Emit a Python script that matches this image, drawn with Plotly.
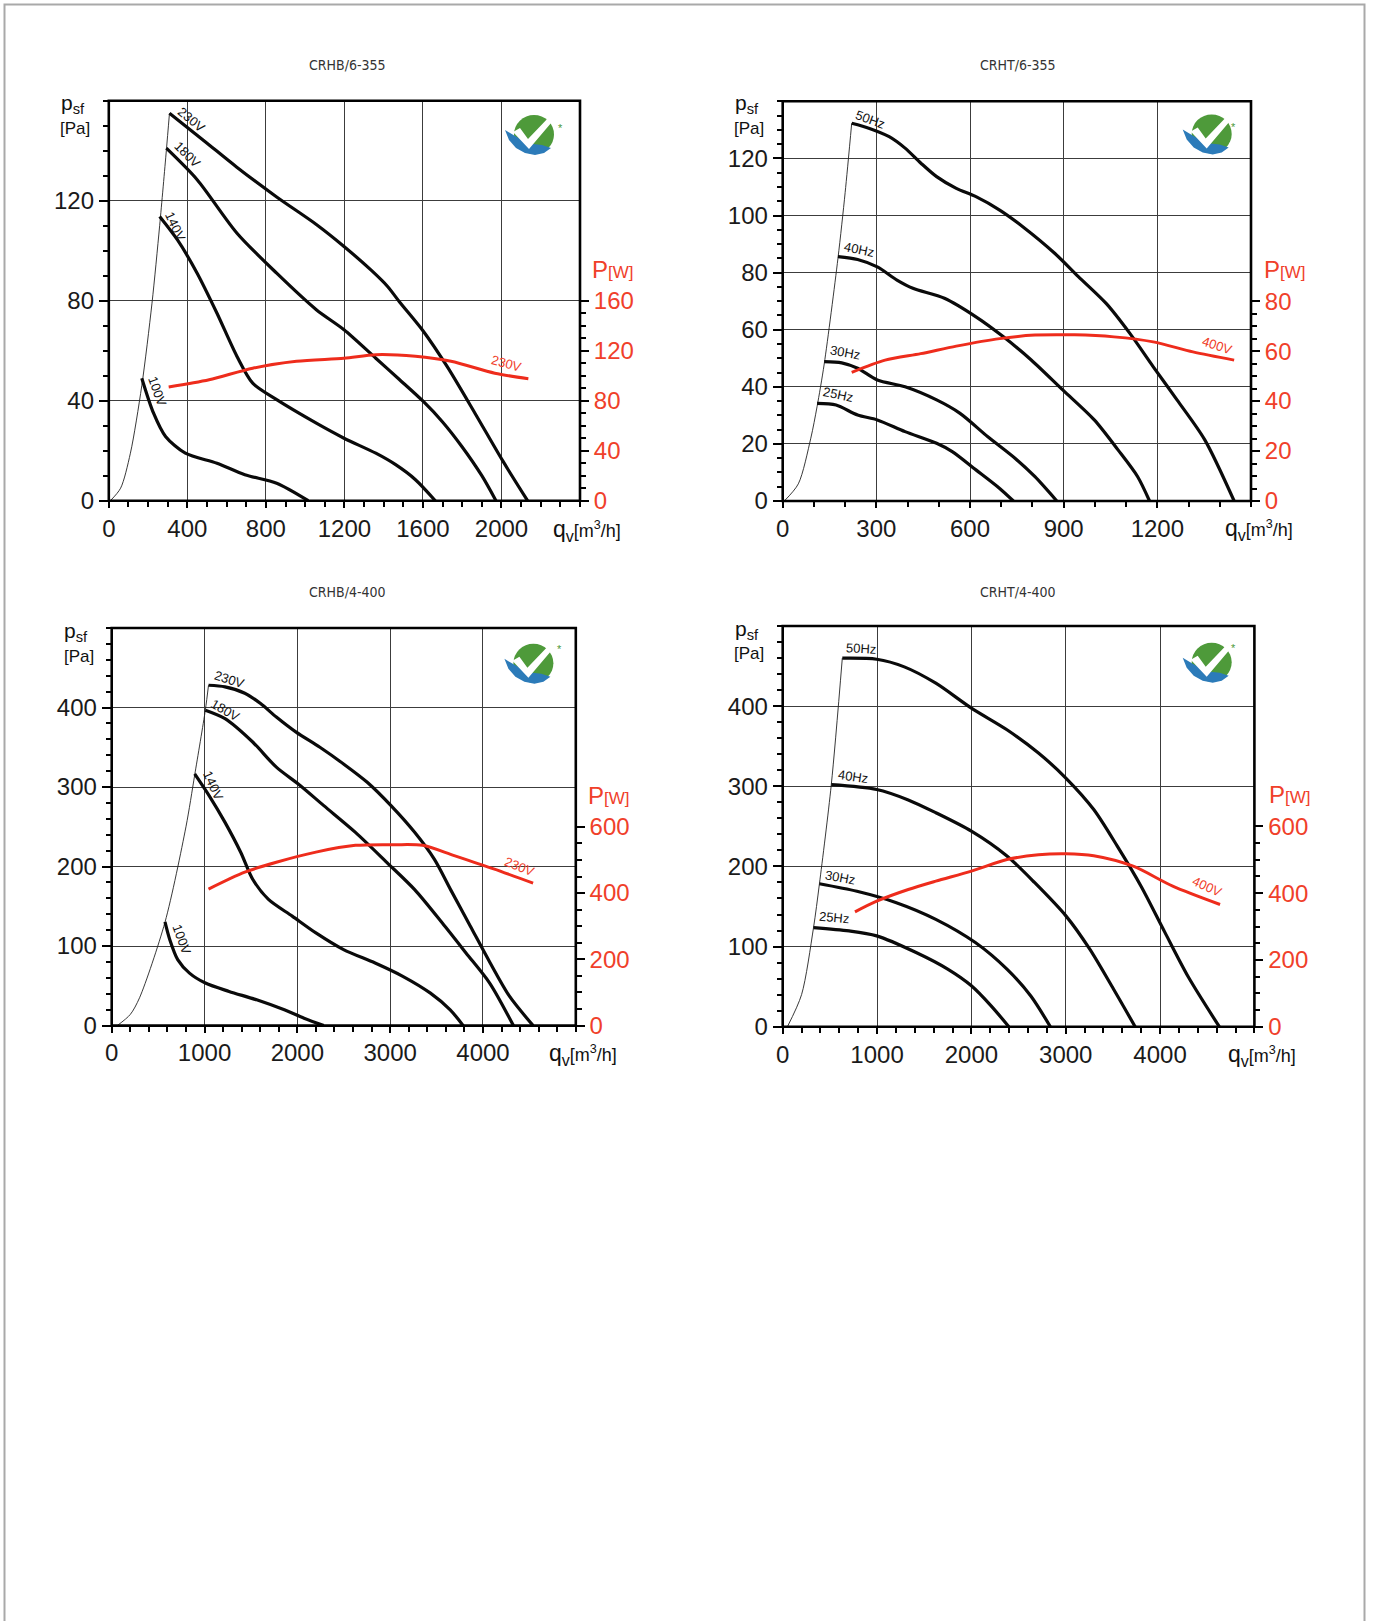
import plotly.graph_objects as go

W, H = 1373, 1621

# ---------------- data ----------------
TITLES = ["CRHB/6-355", "CRHT/6-355", "CRHB/4-400", "CRHT/4-400"]

# CRHB/6-355  (q in m3/h, psf in Pa, P in W)
A_230_Q = [309, 491, 652, 855, 1057, 1198, 1339, 1420, 1481, 1602, 1723, 1865, 2006, 2133]
A_230_P = [155, 143.6, 133.4, 121.5, 110.5, 101.7, 92.0, 85.7, 79.5, 67.8, 53.7, 35, 16, 0]
A_180_Q = [293, 450, 653, 855, 1057, 1198, 1360, 1480, 1602, 1700, 1800, 1900, 1972]
A_180_P = [141, 128.4, 107, 91, 76.4, 68.4, 57, 48.5, 39.7, 31.5, 21.5, 10, 0]
A_140_Q = [259, 349, 450, 551, 653, 733, 855, 1057, 1198, 1360, 1461, 1562, 1663]
A_140_P = [113.7, 104.4, 91, 75, 57.7, 47, 40.4, 31, 25, 19, 14.4, 8.4, 0]
A_100_Q = [168, 228, 289, 390, 551, 693, 855, 1016]
A_100_P = [49, 35, 25.7, 19, 15, 10.4, 7, 0]
A_SYS_Q = [8, 60, 110, 168, 220, 259, 293, 309]
A_SYS_P = [0, 5, 19, 46, 79, 110, 140, 155]
A_PW_Q = [305, 511, 733, 956, 1198, 1360, 1562, 1743, 1966, 2137]
A_PW_W = [91, 96.8, 106, 111.5, 114, 116.8, 115.5, 111.5, 102, 97.6]

# CRHT/6-355
B_50_Q = [221, 278, 341, 392, 442, 493, 556, 619, 695, 770, 872, 947, 1036, 1112, 1187, 1263, 1352, 1446]
B_50_P = [132.3, 130.5, 127.6, 123.6, 118.4, 113.6, 109.5, 106.6, 101.9, 96, 86.7, 78.6, 69.2, 58.7, 47, 35.4, 21.4, 0]
B_40_Q = [177, 240, 303, 366, 417, 518, 619, 707, 796, 897, 998, 1074, 1137, 1175]
B_40_P = [85.6, 84.6, 82, 77.4, 74.5, 71, 64.5, 57.5, 49.4, 38.9, 28.4, 17.9, 8.5, 0]
B_30_Q = [133, 189, 240, 303, 392, 493, 568, 657, 745, 808, 878]
B_30_P = [48.8, 48.4, 46.5, 42.4, 40, 35.4, 30.7, 22.5, 14.9, 8.5, 0]
B_25_Q = [110, 171, 240, 303, 392, 493, 543, 619, 695, 739]
B_25_P = [34.2, 33.6, 30.1, 28.4, 24.3, 20.2, 17.3, 10.9, 4.4, 0]
B_SYS_Q = [5, 50, 90, 110, 133, 177, 200, 221]
B_SYS_P = [0, 6, 22, 33, 48, 85, 108, 132.3]
B_PW_Q = [221, 328, 442, 556, 695, 808, 935, 1061, 1187, 1314, 1446]
B_PW_W = [51.5, 56.4, 59, 62, 65, 66.4, 66.5, 65.7, 63.7, 59.7, 56.4]

# CRHB/4-400
C_230_Q = [1043, 1221, 1434, 1604, 1774, 1987, 2243, 2498, 2753, 3009, 3264, 3477, 3651, 3864, 4072, 4285, 4540]
C_230_P = [428, 426, 418, 405, 388, 369, 350, 329, 306, 276.6, 243, 209, 171, 125, 80, 37, 0]
C_180_Q = [1009, 1221, 1519, 1774, 2030, 2285, 2626, 2966, 3264, 3562, 3817, 4072, 4328]
C_180_P = [396.6, 386, 356.6, 325, 302, 276.6, 243, 205, 171, 129, 91.4, 53.5, 0]
C_140_Q = [894, 1051, 1221, 1391, 1519, 1689, 1945, 2200, 2498, 2838, 3136, 3434, 3647, 3787]
C_140_P = [316.6, 289, 255.6, 217.7, 184, 158.7, 137.7, 116.6, 95.6, 78.7, 62, 40.8, 19.8, 0]
C_100_Q = [574, 626, 711, 838, 1009, 1264, 1562, 1860, 2072, 2285]
C_100_P = [130.5, 108, 83, 66, 53.5, 43, 32.4, 19.8, 9.3, 0]
C_SYS_Q = [60, 200, 300, 574, 800, 894, 1009, 1043]
C_SYS_P = [0, 14, 35, 130, 250, 315, 397, 428]
C_PW_Q = [1043, 1434, 1774, 2200, 2626, 3051, 3349, 3690, 4115, 4540]
C_PW_W = [412, 463, 493, 523.5, 544, 546, 544, 513, 473, 430]

# CRHT/4-400
D_50_Q = [632, 996, 1289, 1623, 2000, 2377, 2711, 3004, 3297, 3548, 3800, 4050, 4300, 4628]
D_50_P = [459.8, 458.5, 449, 428.6, 397.5, 370.5, 341.5, 310, 271, 225, 175, 118, 62, 0]
D_40_Q = [515, 996, 1331, 1623, 2000, 2377, 2669, 3004, 3255, 3506, 3736]
D_40_P = [302, 296, 283, 267, 244, 213, 180, 138, 96.7, 47, 0]
D_30_Q = [389, 787, 1205, 1623, 2042, 2377, 2628, 2837]
D_30_P = [178.4, 169, 154.8, 134, 105, 71.8, 38.6, 0]
D_25_Q = [326, 703, 996, 1414, 1749, 2000, 2209, 2397]
D_25_P = [123.7, 119.5, 113.3, 92.5, 71.8, 51, 26, 0]
D_SYS_Q = [50, 200, 326, 389, 515, 632]
D_SYS_P = [0, 40, 123, 178, 302, 460]
D_PW_Q = [766, 996, 1331, 1623, 2000, 2377, 2711, 3004, 3297, 3715, 4134, 4636]
D_PW_W = [344, 376, 411, 436, 466, 500.5, 515, 518, 512, 480.6, 421, 366]

# tick values
A_XTICKS = [0, 400, 800, 1200, 1600, 2000]
A_YTICKS = [0, 40, 80, 120]
A_PTICKS = [0, 40, 80, 120, 160]
B_XTICKS = [0, 300, 600, 900, 1200]
B_YTICKS = [0, 20, 40, 60, 80, 100, 120]
B_PTICKS = [0, 20, 40, 60, 80]
C_XTICKS = [0, 1000, 2000, 3000, 4000]
C_YTICKS = [0, 100, 200, 300, 400]
C_PTICKS = [0, 200, 400, 600]
D_XTICKS = C_XTICKS
D_YTICKS = C_YTICKS
D_PTICKS = C_PTICKS

CHARTS = [
    dict(curves=[("230V", A_230_Q, A_230_P), ("180V", A_180_Q, A_180_P),
                 ("140V", A_140_Q, A_140_P), ("100V", A_100_Q, A_100_P)],
         sys=(A_SYS_Q, A_SYS_P), pw=("230V", A_PW_Q, A_PW_W),
         xt=A_XTICKS, yt=A_YTICKS, pt=A_PTICKS),
    dict(curves=[("50Hz", B_50_Q, B_50_P), ("40Hz", B_40_Q, B_40_P),
                 ("30Hz", B_30_Q, B_30_P), ("25Hz", B_25_Q, B_25_P)],
         sys=(B_SYS_Q, B_SYS_P), pw=("400V", B_PW_Q, B_PW_W),
         xt=B_XTICKS, yt=B_YTICKS, pt=B_PTICKS),
    dict(curves=[("230V", C_230_Q, C_230_P), ("180V", C_180_Q, C_180_P),
                 ("140V", C_140_Q, C_140_P), ("100V", C_100_Q, C_100_P)],
         sys=(C_SYS_Q, C_SYS_P), pw=("230V", C_PW_Q, C_PW_W),
         xt=C_XTICKS, yt=C_YTICKS, pt=C_PTICKS),
    dict(curves=[("50Hz", D_50_Q, D_50_P), ("40Hz", D_40_Q, D_40_P),
                 ("30Hz", D_30_Q, D_30_P), ("25Hz", D_25_Q, D_25_P)],
         sys=(D_SYS_Q, D_SYS_P), pw=("400V", D_PW_Q, D_PW_W),
         xt=D_XTICKS, yt=D_YTICKS, pt=D_PTICKS),
]

# ---------------- layout / style ----------------
LAYOUT = [
    dict(xd=(108.8, 580.0), yd=(100.7, 500.7), xr=2400, xm=100, yr=160, ym=10, pr=320, pm=10, pmax=160,
         labels=[(420, 152.4, 40), (400, 138.4, 45), (339, 109.7, 65), (248, 43.7, 70)],
         plabel=(2026, 54.8, 15),
         title=(347.4, 65.1), psf=(73, 104), pa=(75, 128), pw=(613, 270), qv=(586.5, 530.4), logo=(532, 135)),
    dict(xd=(782.7, 1251.0), yd=(101.3, 501.0), xr=1500, xm=100, yr=140, ym=5, pr=160, pm=5, pmax=80,
         labels=[(280, 133.6, 20), (244, 88.2, 12), (200, 52, 10), (177, 37.4, 12)],
         plabel=(1392, 54.6, 18),
         title=(1018.4, 65.1), psf=(747, 104), pa=(749.5, 129), pw=(1285, 270), qv=(1258.5, 529.4), logo=(1209.7, 134.4)),
    dict(xd=(111.7, 575.8), yd=(628.0, 1025.6), xr=5000, xm=200, yr=500, ym=20, pr=1200, pm=50, pmax=600,
         labels=[(1272, 435, 18), (1230, 396.6, 30), (1094, 302, 65), (753, 108, 70)],
         plabel=(4391, 199.6, 22),
         title=(347.4, 592.4), psf=(76, 632), pa=(78.5, 656.5), pw=(609, 795), qv=(582.5, 1054.6), logo=(531.4, 663.8)),
    dict(xd=(782.7, 1254.4), yd=(626.0, 1026.7), xr=5000, xm=200, yr=500, ym=20, pr=1200, pm=50, pmax=600,
         labels=[(828, 472, 3), (745, 312.4, 8), (611, 186, 10), (544, 136, 5)],
         plabel=(4498, 175.5, 25),
         title=(1018.4, 592.4), psf=(747, 630), pa=(749.5, 653), pw=(1289.5, 794), qv=(1262, 1055.6), logo=(1209.7, 662.7)),
]

RED = "#f0402a"
RED_LINE = "#ee2c1c"
FONT = "Liberation Sans, Arial, Helvetica, sans-serif"
TICKFONT = dict(family=FONT, size=24, color="#1a1a1a")


def PX(x):
    return x / W


def PY(y):
    return 1 - y / H


fig = go.Figure()
layout = dict(template="none", width=W, height=H,
              margin=dict(l=0, r=0, t=0, b=0, pad=0, autoexpand=False),
              paper_bgcolor="white", plot_bgcolor="white", showlegend=False,
              font=dict(family=FONT, color="#111"))
annotations = []
shapes = []

# page border (left, top, right)
shapes.append(dict(type="path", xref="paper", yref="paper",
                   path=f"M {PX(4.5)} {PY(1700)} L {PX(4.5)} {PY(4.5)} L {PX(1364.5)} {PY(4.5)} L {PX(1364.5)} {PY(1700)}",
                   line=dict(color="#a9a9a9", width=2)))

for i, (ch, lo) in enumerate(zip(CHARTS, LAYOUT)):
    xa = "x" if i == 0 else f"x{i+1}"
    ya_n = 2 * i + 1
    yb_n = 2 * i + 2
    ya = "y" if ya_n == 1 else f"y{ya_n}"
    yb = f"y{yb_n}"
    xkey = "xaxis" if i == 0 else f"xaxis{i+1}"
    yakey = "yaxis" if ya_n == 1 else f"yaxis{ya_n}"
    ybkey = f"yaxis{yb_n}"

    xd = [PX(lo["xd"][0]), PX(lo["xd"][1])]
    yd = [PY(lo["yd"][1]), PY(lo["yd"][0])]

    x_minor = [v for v in range(0, lo["xr"] + 1, lo["xm"]) if v not in ch["xt"]]
    y_minor = [v for v in range(0, lo["yr"] + 1, lo["ym"]) if v not in ch["yt"]]
    p_minor = [v for v in range(0, lo["pmax"] + 1, lo["pm"]) if v not in ch["pt"]]

    layout[xkey] = dict(domain=xd, range=[0, lo["xr"]], anchor=ya, tickmode="array", tickvals=ch["xt"],
                        ticks="outside", ticklen=6, tickwidth=1.8, tickcolor="black",
                        tickfont=TICKFONT, showgrid=True, gridcolor="#3c3c3c", gridwidth=1,
                        zeroline=False, showline=False, fixedrange=True, automargin=False,
                        ticklabelstandoff=0,
                        minor=dict(tickvals=x_minor, ticks="outside", ticklen=5, tickwidth=1.8,
                                   tickcolor="black", showgrid=False))
    layout[yakey] = dict(domain=yd, range=[0, lo["yr"]], anchor=xa, tickmode="array", tickvals=ch["yt"],
                         ticks="outside", ticklen=9, tickwidth=1.8, tickcolor="black",
                         tickfont=TICKFONT, showgrid=True, gridcolor="#3c3c3c", gridwidth=1,
                         zeroline=False, showline=False, fixedrange=True, automargin=False,
                         ticklabelstandoff=0,
                         minor=dict(tickvals=y_minor, ticks="outside", ticklen=5, tickwidth=1.8,
                                    tickcolor="black", showgrid=False))
    layout[ybkey] = dict(overlaying=ya, side="right", anchor=xa, range=[0, lo["pr"]], tickmode="array",
                         tickvals=ch["pt"], ticks="outside", ticklen=8, tickwidth=1.8, tickcolor="black",
                         tickfont=dict(family=FONT, size=24, color=RED), showgrid=False,
                         zeroline=False, showline=False, fixedrange=True, automargin=False,
                         minor=dict(tickvals=p_minor, ticks="outside", ticklen=5, tickwidth=1.8,
                                    tickcolor="black", showgrid=False))

    # system curve
    fig.add_trace(go.Scatter(x=ch["sys"][0], y=ch["sys"][1], xaxis=xa, yaxis=ya, mode="lines",
                             line=dict(color="#222", width=0.9, shape="spline", smoothing=0.8),
                             hoverinfo="skip"))
    # fan curves
    for (name, q, p), (lx, ly, ang) in zip(ch["curves"], lo["labels"]):
        fig.add_trace(go.Scatter(x=q, y=p, xaxis=xa, yaxis=ya, mode="lines", name=name,
                                 line=dict(color="#0a0a0a", width=3.2, shape="spline", smoothing=0.8)))
        annotations.append(dict(x=lx, y=ly, xref=xa, yref=ya, text=name, showarrow=False,
                                textangle=ang, font=dict(family=FONT, size=13, color="#111")))
    # power curve
    pname, pq, pwv = ch["pw"]
    fig.add_trace(go.Scatter(x=pq, y=pwv, xaxis=xa, yaxis=yb, mode="lines", name="P " + pname,
                             line=dict(color=RED_LINE, width=3, shape="spline", smoothing=0.8)))
    lx, ly, ang = lo["plabel"]
    annotations.append(dict(x=lx, y=ly, xref=xa, yref=ya, text=pname, showarrow=False,
                            textangle=ang, font=dict(family=FONT, size=13, color=RED)))

    # plot frame
    shapes.append(dict(type="rect", xref=f"{xa} domain", yref=f"{ya} domain", x0=0, x1=1, y0=0, y1=1,
                       line=dict(color="black", width=2.6), layer="above"))

    # texts in page coordinates
    tx, ty = lo["title"]
    annotations.append(dict(x=PX(tx), y=PY(ty), xref="paper", yref="paper", text=TITLES[i],
                            showarrow=False, xanchor="center", yanchor="middle",
                            font=dict(family="DejaVu Sans Condensed, DejaVu Sans", size=14, color="#333")))
    sx, sy = lo["psf"]
    annotations.append(dict(x=PX(sx), y=PY(sy), xref="paper", yref="paper",
                            text="p<sub>sf</sub>", showarrow=False, xanchor="center", yanchor="middle",
                            font=dict(family=FONT, size=21, color="#111")))
    sx, sy = lo["pa"]
    annotations.append(dict(x=PX(sx), y=PY(sy), xref="paper", yref="paper",
                            text="[Pa]", showarrow=False, xanchor="center", yanchor="middle",
                            font=dict(family=FONT, size=17, color="#111")))
    sx, sy = lo["pw"]
    annotations.append(dict(x=PX(sx), y=PY(sy), xref="paper", yref="paper",
                            text="P<span style='font-size:17px'>[W]</span>", showarrow=False,
                            xanchor="center", yanchor="middle",
                            font=dict(family=FONT, size=24, color=RED)))
    sx, sy = lo["qv"]
    annotations.append(dict(x=PX(sx), y=PY(sy), xref="paper", yref="paper",
                            text="q<sub>v</sub><span style='font-size:18px'>[m<sup>3</sup>/h]</span>",
                            showarrow=False, xanchor="center", yanchor="middle",
                            font=dict(family=FONT, size=23, color="#111")))

    # certification logo (drawn with shapes)
    cx, cy = lo["logo"]

    def P(pts):
        return " ".join(("M" if k == 0 else "L") + f" {PX(cx + a)} {PY(cy + b)}" for k, (a, b) in enumerate(pts)) + " Z"

    shapes.append(dict(type="circle", xref="paper", yref="paper",
                       x0=PX(cx - 18), x1=PX(cx + 22), y0=PY(cy + 19), y1=PY(cy - 20),
                       fillcolor="#4e9a3a", line=dict(width=0)))
    blue = [(-27, -5), (-23, 5), (-16, 13), (-7, 18), (3, 20), (12, 18), (19, 13),
            (10, 10), (1, 9), (-8, 6), (-17, 1)]
    shapes.append(dict(type="path", xref="paper", yref="paper", path=P(blue),
                       fillcolor="#2c7bb9", line=dict(width=0)))
    check = [(-19, -3), (-12, -7), (-4, 4), (18, -19), (25, -19), (-3, 14)]
    shapes.append(dict(type="path", xref="paper", yref="paper", path=P(check),
                       fillcolor="white", line=dict(width=0)))
    annotations.append(dict(x=PX(cx + 28), y=PY(cy - 15), xref="paper", yref="paper", text="*",
                            showarrow=False, font=dict(family=FONT, size=11, color="#4e9a3a")))

layout["annotations"] = annotations
layout["shapes"] = shapes
fig.update_layout(**layout)

fig.write_html(
    "out.html", config=dict(displayModeBar=False),
    post_script=("document.documentElement.style.margin='0';document.body.style.margin='0';"
                 "document.documentElement.style.overflow='hidden';document.body.style.overflow='hidden';"
                 "var d=document.getElementById('{plot_id}');d.style.position='fixed';"
                 "d.style.left='0px';d.style.top='0px';"))
